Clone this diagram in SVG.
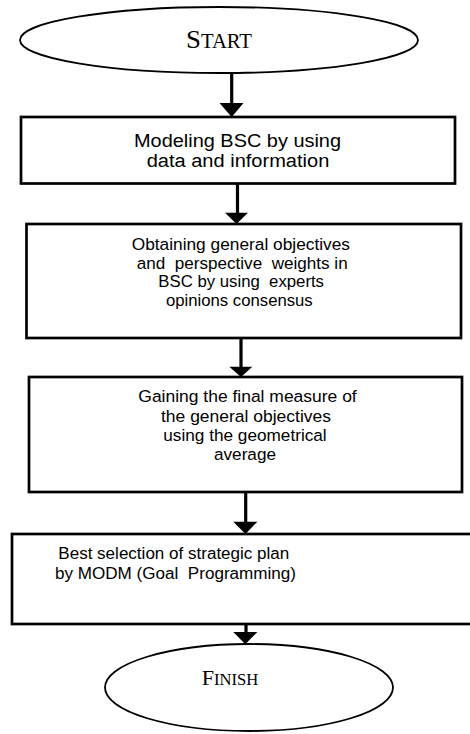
<svg xmlns="http://www.w3.org/2000/svg" width="470" height="734" viewBox="0 0 470 734">
<style>
.term{fill:#fff;stroke:#000;stroke-width:1.8}
.box{fill:#fff;stroke:#000;stroke-width:2.7;stroke-linecap:round}
.lbl{font-family:"Liberation Sans",Arial,sans-serif;fill:#000}
.ser{font-family:"Liberation Serif","Times New Roman",serif;fill:#000}
.conn line{stroke:#000;stroke-width:3.2}
.conn polygon{fill:#000}
</style>
<rect width="470" height="734" fill="#fff"/>
<g id="start">
<ellipse class="term" cx="219" cy="40" rx="199" ry="33"/>
<text class="ser" x="186" y="47.7" textLength="66" lengthAdjust="spacingAndGlyphs"><tspan font-size="26">S</tspan><tspan font-size="20">TART</tspan></text>
</g>
<g id="step1">
<rect class="box" x="21" y="117" width="434" height="66.5"/>
<text class="lbl" font-size="18" x="134" y="147" textLength="207" lengthAdjust="spacingAndGlyphs">Modeling BSC by using</text>
<text class="lbl" font-size="18" x="146.7" y="166.7" textLength="182.6" lengthAdjust="spacingAndGlyphs">data and information</text>
</g>
<g id="step2">
<rect class="box" x="26.5" y="224" width="434.5" height="114"/>
<text class="lbl" font-size="16.3" x="131.7" y="249.7" textLength="218.3" lengthAdjust="spacingAndGlyphs">Obtaining general objectives</text>
<text class="lbl" font-size="16.3" x="136.7" y="268.7" textLength="211" lengthAdjust="spacingAndGlyphs" xml:space="preserve">and  perspective  weights in</text>
<text class="lbl" font-size="16.3" x="158.3" y="287" textLength="165.7" lengthAdjust="spacingAndGlyphs" xml:space="preserve">BSC by using  experts</text>
<text class="lbl" font-size="16.3" x="166" y="305.5" textLength="146.7" lengthAdjust="spacingAndGlyphs">opinions consensus</text>
</g>
<g id="step3">
<rect class="box" x="29" y="377" width="433" height="115"/>
<text class="lbl" font-size="16.3" x="138.3" y="401.7" textLength="218.4" lengthAdjust="spacingAndGlyphs">Gaining the final measure of</text>
<text class="lbl" font-size="16.3" x="161" y="421.7" textLength="170" lengthAdjust="spacingAndGlyphs">the general objectives</text>
<text class="lbl" font-size="16.3" x="163.3" y="441" textLength="163.4" lengthAdjust="spacingAndGlyphs">using the geometrical</text>
<text class="lbl" font-size="16.3" x="214" y="459.7" textLength="62" lengthAdjust="spacingAndGlyphs">average</text>
</g>
<g id="step4">
<rect class="box" x="12" y="534" width="470" height="90"/>
<text class="lbl" font-size="16" x="58.3" y="559" textLength="231" lengthAdjust="spacingAndGlyphs">Best selection of strategic plan</text>
<text class="lbl" font-size="16" x="55" y="579" textLength="241" lengthAdjust="spacingAndGlyphs" xml:space="preserve">by MODM (Goal  Programming)</text>
</g>
<g id="finish">
<ellipse class="term" cx="249" cy="687.5" rx="144" ry="43.5"/>
<text class="ser" x="201.7" y="685" textLength="56.6" lengthAdjust="spacingAndGlyphs"><tspan font-size="22">F</tspan><tspan font-size="16.5">INISH</tspan></text>
</g>
<g id="connectors" class="conn">
<line x1="231.7" y1="73" x2="231.7" y2="104"/>
<polygon points="219.5,103 243.5,103 231.7,117"/>
<line x1="237.5" y1="183.5" x2="237.5" y2="214"/>
<polygon points="225,212.7 248,212.7 236.5,224"/>
<line x1="241" y1="338" x2="241" y2="368"/>
<polygon points="229.3,366.7 252.3,366.7 241,377"/>
<line x1="245.7" y1="492" x2="245.7" y2="523"/>
<polygon points="233.3,521.7 257.3,521.7 245.5,534"/>
<line x1="246" y1="624" x2="246" y2="633"/>
<polygon points="233.3,632 257.3,632 245.3,644.3"/>
</g>
</svg>
